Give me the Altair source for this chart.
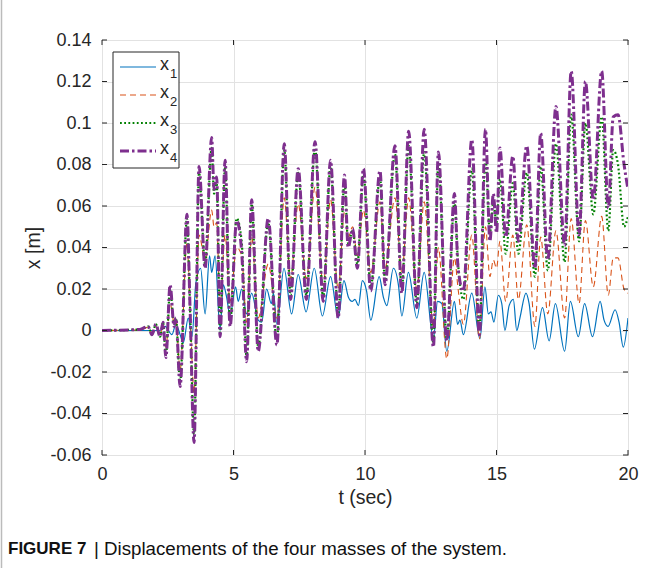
import altair as alt
import pandas as pd

# ---------------- data ----------------
# common time stamps (s) of the extrema of x2, x3, x4
t_main = [0.00, 1.44, 1.75, 1.90, 2.05, 2.21, 2.32, 2.43, 2.59, 2.74,
          2.81, 2.97, 3.23, 3.35, 3.50, 3.69, 3.92, 4.17, 4.26, 4.36,
          4.49, 4.68, 4.87, 5.12, 5.31, 5.50, 5.69, 5.94, 6.32, 6.65,
          6.93, 7.17, 7.46, 7.77, 8.10, 8.41, 8.69, 8.98, 9.22, 9.36,
          9.53, 9.71, 9.94, 10.22, 10.57, 10.76, 11.14, 11.40, 11.66, 11.97,
          12.25, 12.60, 12.79, 13.11, 13.40, 13.54, 13.74, 14.06, 14.35, 14.58,
          14.75, 14.88, 15.00, 15.13, 15.35, 15.62, 15.83, 16.15, 16.46, 16.68,
          16.95, 17.26, 17.59, 17.84, 18.14, 18.38, 18.68, 19.00, 19.25, 19.44,
          19.62, 19.85, 20.00]
x4_vals = [0.000, 0.0005, 0.002, -0.002, 0.003, -0.003, 0.004, -0.013, 0.022, 0.002,
           0.006, -0.027, 0.056, 0.010, -0.054, 0.079, 0.030, 0.093, 0.068, 0.074,
           -0.003, 0.082, 0.002, 0.053, 0.038, -0.015, 0.063, -0.010, 0.054, -0.007,
           0.090, 0.015, 0.078, 0.015, 0.091, 0.014, 0.082, 0.006, 0.075, 0.040,
           0.049, 0.030, 0.078, 0.019, 0.077, 0.022, 0.089, 0.018, 0.096, 0.011,
           0.097, -0.008, 0.086, -0.005, 0.066, 0.030, 0.019, 0.092, -0.002, 0.097,
           0.043, 0.066, 0.047, 0.088, 0.045, 0.084, 0.043, 0.089, 0.030, 0.095,
           0.034, 0.108, 0.041, 0.125, 0.046, 0.120, 0.063, 0.125, 0.059, 0.103,
           0.104, 0.080, 0.068]
x3_vals = [0.000, 0.0005, 0.002, -0.002, 0.003, -0.003, 0.004, -0.012, 0.020, 0.003,
           0.006, -0.025, 0.054, 0.010, -0.050, 0.076, 0.032, 0.088, 0.066, 0.071,
           -0.001, 0.079, 0.004, 0.054, 0.043, -0.013, 0.061, -0.008, 0.052, -0.005,
           0.087, 0.017, 0.076, 0.017, 0.088, 0.016, 0.079, 0.008, 0.072, 0.042,
           0.048, 0.032, 0.075, 0.021, 0.074, 0.024, 0.085, 0.020, 0.089, 0.013,
           0.086, -0.006, 0.081, -0.004, 0.062, 0.032, 0.015, 0.078, 0.000, 0.083,
           0.047, 0.062, 0.052, 0.073, 0.037, 0.071, 0.037, 0.076, 0.026, 0.079,
           0.029, 0.090, 0.033, 0.104, 0.043, 0.100, 0.056, 0.103, 0.048, 0.087,
           0.080, 0.050, 0.055]
x2_vals = [0.000, 0.0003, 0.0015, -0.001, 0.002, -0.002, 0.003, -0.008, 0.013, 0.004,
           0.005, -0.019, 0.042, 0.010, -0.030, 0.046, 0.034, 0.058, 0.050, 0.052,
           0.012, 0.046, 0.014, 0.040, 0.036, 0.004, 0.045, 0.006, 0.032, 0.006,
           0.064, 0.025, 0.061, 0.025, 0.069, 0.022, 0.063, 0.020, 0.057, 0.045,
           0.050, 0.036, 0.058, 0.028, 0.062, 0.030, 0.064, 0.028, 0.064, 0.020,
           0.062, 0.002, 0.040, -0.0136, 0.035, 0.020, 0.003, 0.046, -0.004, 0.050,
           0.026, 0.034, 0.030, 0.043, 0.014, 0.046, 0.015, 0.051, 0.002, 0.045,
           0.008, 0.048, 0.006, 0.054, 0.013, 0.053, 0.021, 0.055, 0.017, 0.035,
           0.035, 0.020, 0.018]
# x1 oscillates faster: its own time stamps
t_x1 = [0.00, 2.21, 2.40, 2.66, 2.81, 2.97, 3.09, 3.28, 3.42, 3.57,
        3.75, 3.92, 4.09, 4.17, 4.30, 4.49, 4.61, 4.74, 4.87, 5.08,
        5.18, 5.31, 5.50, 5.69, 5.94, 6.07, 6.26, 6.44, 6.52, 6.65,
        6.92, 7.21, 7.46, 7.76, 8.07, 8.38, 8.69, 8.98, 9.20, 9.37,
        9.51, 9.62, 9.75, 9.90, 10.06, 10.22, 10.54, 10.70, 10.83, 11.08,
        11.27, 11.40, 11.65, 11.97, 12.25, 12.60, 12.76, 12.92, 13.11, 13.40,
        13.52, 13.61, 13.74, 14.06, 14.37, 14.56, 14.69, 14.79, 14.90, 15.07,
        15.20, 15.32, 15.48, 15.64, 15.77, 15.89, 16.12, 16.24, 16.44, 16.75,
        17.00, 17.24, 17.59, 17.81, 18.11, 18.35, 18.65, 18.94, 19.09, 19.24,
        19.51, 19.66, 19.82, 20.00]
x1_vals = [0.000, 0.000, 0.002, -0.002, 0.003, -0.002, -0.006, 0.006, -0.003, 0.023,
           0.030, 0.008, 0.036, 0.028, 0.036, 0.000, 0.022, 0.016, 0.007, 0.021,
           0.014, 0.020, 0.008, 0.018, 0.005, 0.004, 0.020, 0.013, 0.018, 0.003,
           0.030, 0.008, 0.027, 0.009, 0.030, 0.007, 0.026, 0.006, 0.024, 0.016,
           0.014, 0.015, 0.012, 0.024, 0.019, 0.005, 0.026, 0.016, 0.012, 0.030,
           0.022, 0.007, 0.028, 0.006, 0.028, -0.004, 0.014, 0.013, -0.010, 0.014,
           0.003, 0.005, -0.002, 0.018, -0.004, 0.021, 0.008, 0.009, 0.004, 0.017,
           0.013, 0.000, 0.012, 0.015, 0.000, 0.006, 0.018, 0.013, -0.009, 0.011,
           -0.005, 0.013, -0.010, 0.014, -0.003, 0.013, -0.003, 0.014, 0.005, 0.002,
           0.010, 0.004, -0.008, 0.006]

series_names = ["x1", "x2", "x3", "x4"]
legend_base = ["x", "x", "x", "x"]
legend_subs = ["1", "2", "3", "4"]
series_colors = ["#0072BD", "#D95319", "#008000", "#7E2F8E"]
x_tick_values = [0, 5, 10, 15, 20]
y_tick_values = [-0.06, -0.04, -0.02, 0, 0.02, 0.04, 0.06, 0.08, 0.1, 0.12, 0.14]
x_title = "t (sec)"
y_title = "x [m]"
caption_bold = "FIGURE 7"
caption_rest = "| Displacements of the four masses of the system."

# ---------------- styling / layout ----------------
W, H = 526, 415
FONT = "Liberation Sans"
AX = "#262626"
dashes = [None, [6, 4], [1.8, 2.4], [9, 3, 2.5, 3]]
widths = [1.2, 1.1, 2.2, 3.0]

xs = alt.Scale(domain=[0, 20], nice=False, zero=False)
ys = alt.Scale(domain=[-0.06, 0.14], nice=False, zero=False)

x_axis = alt.Axis(values=x_tick_values, title=x_title, grid=True, gridColor="#e2e2e2",
                  gridWidth=1, domain=False, ticks=False, labelFont=FONT, labelFontSize=18,
                  labelColor=AX, labelPadding=10, labelFlush=False, titleFont=FONT,
                  titleFontSize=19.5, titleFontWeight="normal", titleColor=AX,
                  titlePadding=5, format="d")
y_axis = alt.Axis(values=y_tick_values, title=y_title, grid=True, gridColor="#e2e2e2",
                  gridWidth=1, domain=False, ticks=False, labelFont=FONT, labelFontSize=18,
                  labelColor=AX, labelPadding=11, labelFlush=False, titleFont=FONT,
                  titleFontSize=19.5, titleFontWeight="normal", titleColor=AX,
                  titlePadding=6,
                  labelExpr="replace(format(datum.value, '~g'), '\u2212', '-')")


def X(field):
    return alt.X(field, scale=xs, axis=x_axis)


def Y(field):
    return alt.Y(field, scale=ys, axis=y_axis)


t_lists = [t_x1, t_main, t_main, t_main]
v_lists = [x1_vals, x2_vals, x3_vals, x4_vals]

layers = []
for i, name in enumerate(series_names):
    df = pd.DataFrame({"t": t_lists[i], "v": v_lists[i]})
    kw = dict(color=series_colors[i], strokeWidth=widths[i], interpolate="monotone", clip=True)
    if dashes[i] is not None:
        kw["strokeDash"] = dashes[i]
    layers.append(alt.Chart(df).mark_line(**kw).encode(x=X("t:Q"), y=Y("v:Q")))

# inward ticks on all four sides (MATLAB box style)
ytdf = pd.DataFrame({"v": y_tick_values})
xtdf = pd.DataFrame({"t": x_tick_values})
TL = 5
layers.append(alt.Chart(ytdf).mark_rule(color=AX, strokeWidth=1).encode(
    y=Y("v:Q"), x=alt.value(0), x2=alt.value(TL)))
layers.append(alt.Chart(ytdf).mark_rule(color=AX, strokeWidth=1).encode(
    y=Y("v:Q"), x=alt.value(W - TL), x2=alt.value(W)))
layers.append(alt.Chart(xtdf).mark_rule(color=AX, strokeWidth=1).encode(
    x=X("t:Q"), y=alt.value(H - TL), y2=alt.value(H)))
layers.append(alt.Chart(xtdf).mark_rule(color=AX, strokeWidth=1).encode(
    x=X("t:Q"), y=alt.value(0), y2=alt.value(TL)))

# legend (manual, to get subscripts)
box_df = pd.DataFrame({"k": ["legend"]})
layers.append(alt.Chart(box_df).mark_rect(fill="white", stroke=AX, strokeWidth=1).encode(
    x=alt.value(11), x2=alt.value(77), y=alt.value(12), y2=alt.value(128)))
for i, name in enumerate(series_names):
    yi = 27 + 28 * i
    ldf = pd.DataFrame({"base": [legend_base[i]], "sub": [legend_subs[i]]})
    kw = dict(color=series_colors[i], strokeWidth=widths[i])
    if dashes[i] is not None:
        kw["strokeDash"] = dashes[i]
    layers.append(alt.Chart(ldf).mark_rule(**kw).encode(
        x=alt.value(18), x2=alt.value(54), y=alt.value(yi)))
    layers.append(alt.Chart(ldf).mark_text(align="left", baseline="middle", font=FONT,
                                           fontSize=18, color=AX).encode(
        x=alt.value(58), y=alt.value(yi - 2), text="base:N"))
    layers.append(alt.Chart(ldf).mark_text(align="left", baseline="middle", font=FONT,
                                           fontSize=13, color=AX).encode(
        x=alt.value(68), y=alt.value(yi + 7), text="sub:N"))

# caption + frame line
cap_df = pd.DataFrame({"bold": [caption_bold], "rest": [caption_rest]})
layers.append(alt.Chart(cap_df).mark_text(align="left", baseline="middle", font=FONT,
                                          fontSize=17, fontWeight="bold", color="#111111").encode(
    x=alt.value(-94), y=alt.value(509), text="bold:N"))
layers.append(alt.Chart(cap_df).mark_text(align="left", baseline="middle", font=FONT,
                                          fontSize=18.7, color="#111111").encode(
    x=alt.value(-8), y=alt.value(509), text="rest:N"))
layers.append(alt.Chart(cap_df).mark_rule(color="#bbbbbb", strokeWidth=1.5).encode(
    x=alt.value(-100.5), y=alt.value(-40), y2=alt.value(528)))

chart = alt.layer(*layers).properties(
    width=W, height=H,
    padding={"left": 102, "top": 40, "right": 26, "bottom": 113},
    autosize=alt.AutoSizeParams(type="none"),
    background="white",
).configure_view(stroke=AX, strokeWidth=1)

chart.save("out.html", embed_options={"renderer": "svg", "actions": False})
